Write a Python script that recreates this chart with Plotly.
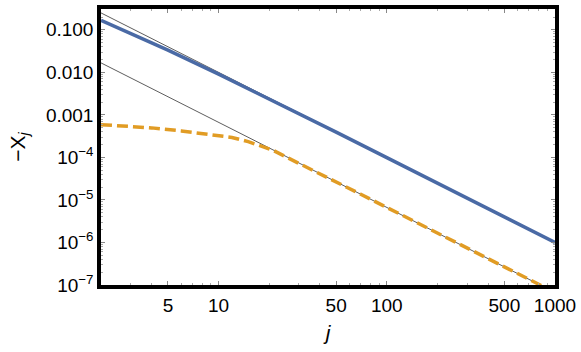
import plotly.graph_objects as go

# values (log-log)
j_line = [2, 5, 10, 20, 50, 100, 200, 500, 1000]
chi_blue = [0.167, 0.0333, 0.00909, 0.00238, 3.92e-4, 9.9e-5, 2.49e-5, 3.99e-6, 1.0e-6]
ref_upper = [0.25, 0.04, 0.01, 0.0025, 4.0e-4, 1.0e-4, 2.5e-5, 4.0e-6, 1.0e-6]
ref_lower = [0.0167, 2.67e-3, 6.67e-4, 1.67e-4, 2.67e-5, 6.67e-6, 1.67e-6, 2.67e-7, 6.67e-8]

j_orange = [2, 3, 4, 6, 8, 10, 12, 15, 18, 21, 25, 30, 40, 50, 70, 100, 200, 500, 1000]
chi_orange = [5.9e-4, 5.45e-4, 4.95e-4, 4.2e-4, 3.7e-4, 3.35e-4, 2.95e-4, 2.35e-4, 1.85e-4,
              1.48e-4, 1.04e-4, 7.3e-5, 4.1e-5, 2.65e-5, 1.36e-5, 6.67e-6, 1.67e-6,
              2.67e-7, 6.67e-8]

x_ticks = [5, 10, 50, 100, 500, 1000]
x_minor = [2, 3, 4, 6, 7, 8, 9, 20, 30, 40, 60, 70, 80, 90, 200, 300, 400, 600, 700, 800, 900]
y_ticks = [1e-7, 1e-6, 1e-5, 1e-4, 1e-3, 1e-2, 1e-1]
y_labels = ["10<sup>−7</sup>", "10<sup>−6</sup>", "10<sup>−5</sup>", "10<sup>−4</sup>",
            "0.001", "0.010", "0.100"]
y_minor = [m * 10 ** e for e in range(-7, 0) for m in (2, 3, 4, 5, 6, 7, 8, 9)]

FONT = "Liberation Sans, Arial"

fig = go.Figure()
fig.add_trace(go.Scatter(x=j_line, y=ref_upper, mode="lines",
                         line=dict(color="#333333", width=0.8)))
fig.add_trace(go.Scatter(x=j_line, y=ref_lower, mode="lines",
                         line=dict(color="#333333", width=0.8)))
fig.add_trace(go.Scatter(x=j_line, y=chi_blue, mode="lines",
                         line=dict(color="#4a6aa5", width=3.5)))
fig.add_trace(go.Scatter(x=j_orange, y=chi_orange, mode="lines",
                         line=dict(color="#e19c24", width=3.5, dash="11px,5px")))

axis_common = dict(
    type="log", showgrid=False, zeroline=False,
    showline=True, linecolor="black", linewidth=3.5, mirror="allticks",
    ticks="inside", ticklen=4, tickwidth=1, tickcolor="#888888",
    tickfont=dict(family=FONT, size=19, color="black"),
    ticklabeloverflow="allow",
)

fig.update_layout(
    width=581, height=352,
    margin=dict(l=101, r=26, t=5, b=67),
    paper_bgcolor="white", plot_bgcolor="white",
    showlegend=False,
    xaxis=dict(axis_common, range=[0.301, 3], tickmode="array", tickvals=x_ticks,
               ticktext=[str(v) for v in x_ticks],
               minor=dict(tickvals=x_minor, ticks="inside", ticklen=2, tickcolor="#aaaaaa"),
               title=dict(text="<i>j</i>", font=dict(family=FONT, size=21, color="black"),
                          standoff=12)),
    yaxis=dict(axis_common, range=[-7, -0.51], tickmode="array", tickvals=y_ticks,
               ticktext=y_labels,
               minor=dict(tickvals=y_minor, ticks="inside", ticklen=2, tickcolor="#aaaaaa"),
               title=dict(text="−Χ<sub><i>j</i></sub>",
                          font=dict(family=FONT, size=21, color="black"), standoff=16)),
)

# page has a default body margin; drop it so the figure sits at the window origin
fig.write_html("out.html", config={"displayModeBar": False},
               post_script="document.body.style.margin='0';")
